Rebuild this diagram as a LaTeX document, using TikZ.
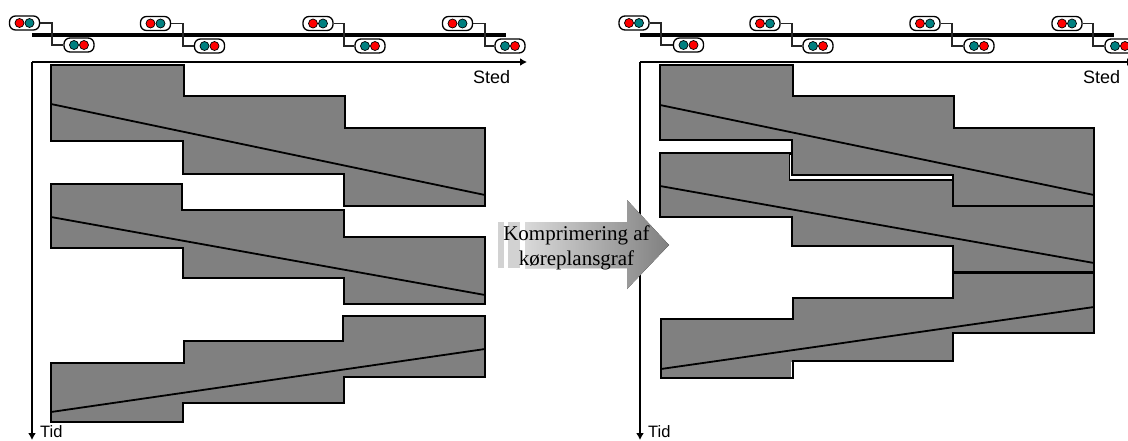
\documentclass[tikz,border=0pt]{standalone}
\usepackage{fontspec}
\setmainfont{Liberation Sans}
\newfontfamily\arrowfont{Liberation Serif}
\usetikzlibrary{arrows.meta,shapes}
\definecolor{blockgray}{HTML}{808080}
\definecolor{lampteal}{HTML}{008080}
\tikzset{
  timeblock/.style={draw=black, fill=blockgray, line width=1.9pt, line join=miter},
  trainline/.style={draw=black, line width=1.8pt},
  whitegap/.style={draw=white, line width=1.1pt},
  axisline/.style={-{Latex[length=7pt,width=8pt]}, line width=1.7pt},
  trackline/.style={line width=3.6pt},
  signalbox/.style={draw, fill=white, rounded corners=6pt, line width=1.3pt, minimum width=30pt, minimum height=14pt, inner sep=0pt},
  signalwire/.style={line width=1.1pt, black!85},
  redlamp/.style={circle, draw, fill=red, line width=.7pt, minimum size=9pt, inner sep=0pt},
  teallamp/.style={circle, draw, fill=lampteal, line width=.7pt, minimum size=9pt, inner sep=0pt},
  stedlabel/.style={inner sep=0pt, anchor=west, font=\fontsize{18}{20}\selectfont},
  tidlabel/.style={inner sep=0pt, anchor=west, font=\fontsize{16.5}{20}\selectfont},
}
\newcommand{\signalpair}[6]{%
  \coordinate (k#1) at (#4,#3);
  \node[signalbox] (u#1) at (#2,#3) {};
  \node[signalbox] (l#1) at (#5,#6) {};
  \draw[signalwire] (u#1.east) -- (k#1) |- (l#1.west);
  % Lamps
  \node[redlamp] (ur#1) at (#2-5,#3) {};
  \node[teallamp] (ut#1) at (#2+5,#3) {};
  \node[teallamp] (lt#1) at (#5-5,#6) {};
  \node[redlamp] (lr#1) at (#5+5,#6) {};
}
\begin{document}
\begin{tikzpicture}[x=1pt,y=-1pt]
\useasboundingbox (0,0) rectangle (1128,440);

% Track and axes, left
\coordinate (ts1) at (32,35);
\coordinate (te1) at (506,35);
\coordinate (o1) at (32,62);
\coordinate (xe1) at (527,62);
\coordinate (ye1) at (32,440);
\draw[trackline] (ts1) -- (te1);
\draw[axisline] (o1) -- (xe1);
\draw[axisline] (o1) -- (ye1);
\node[stedlabel] (sted1) at (473,77) {Sted};
\node[tidlabel] (tid1) at (40,432) {Tid};

% Track and axes, right
\coordinate (ts2) at (640,35);
\coordinate (te2) at (1114,35);
\coordinate (o2) at (640,62);
\coordinate (xe2) at (1134,62);
\coordinate (ye2) at (640,440);
\draw[trackline] (ts2) -- (te2);
\draw[axisline] (o2) -- (xe2);
\draw[axisline] (o2) -- (ye2);
\node[stedlabel] (sted2) at (1083,77) {Sted};
\node[tidlabel] (tid2) at (648,432) {Tid};

% Signals
\signalpair{a}{24.5}{23}{52}{79}{45}
\signalpair{b}{155.5}{23.5}{183}{209.5}{46}
\signalpair{c}{318}{23.5}{344}{370}{46}
\signalpair{d}{457.5}{23.5}{485}{510}{46}
\signalpair{e}{634}{23}{661}{688.5}{45}
\signalpair{f}{765}{23.5}{792}{818}{46}
\signalpair{g}{925}{23.5}{952}{979}{46}
\signalpair{h}{1067}{23.5}{1093}{1120}{46}

% Blocks, left
\draw[timeblock] (51,65) -- (184,65) -- (184,96) -- (345,96) -- (345,128) -- (485,128) -- (485,206)
  -- (344,206) -- (344,174) -- (183,174) -- (183,141) -- (51,141) -- cycle;
\draw[trainline] (51,104) -- (485,195);
\draw[timeblock] (51,184) -- (182,184) -- (182,210) -- (344,210) -- (344,237) -- (485,237) -- (485,304)
  -- (344,304) -- (344,278) -- (183,278) -- (183,248) -- (51,248) -- cycle;
\draw[trainline] (51,217) -- (485,295);
\draw[timeblock] (51,363) -- (184,363) -- (184,341) -- (343,341) -- (343,316) -- (485,316) -- (485,377)
  -- (344,377) -- (344,403) -- (183,403) -- (183,422) -- (51,422) -- cycle;
\draw[trainline] (51,412) -- (485,349);

% Blocks, right
\draw[timeblock] (660,65) -- (793,65) -- (793,96) -- (954,96) -- (954,128) -- (1094,128) -- (1094,206)
  -- (953,206) -- (953,175) -- (792,175) -- (792,140) -- (660,140) -- cycle;
\draw[trainline] (660,105) -- (1094,195);
\draw[timeblock] (660,153) -- (790,153) -- (790,180) -- (953,180) -- (953,206) -- (1094,206) -- (1094,272)
  -- (953,272) -- (953,246) -- (792,246) -- (792,217) -- (660,217) -- cycle;
\draw[trainline] (660,186) -- (1094,263);
\draw[timeblock] (661,319) -- (793,319) -- (793,298) -- (953,298) -- (953,273) -- (1094,273) -- (1094,333)
  -- (953,333) -- (953,361) -- (793,361) -- (793,378) -- (661,378) -- cycle;
\draw[trainline] (661,369) -- (1094,307);
\draw[whitegap] (790.2,155) -- (790.2,179);
\draw[whitegap] (791.4,362) -- (791.4,377);

% Arrow between the graphs
\fill[gray!35] (498,222) rectangle (504,268);
\fill[gray!35] (508,222) rectangle (520,268);
\fill[left color=gray!30, right color=blockgray] (525,222) -- (627,222) -- (627,200) -- (669,245)
  -- (627,289) -- (627,268) -- (525,268) -- cycle;
\node[align=center, inner sep=0pt, font=\arrowfont\fontsize{21}{25}\selectfont] (komp) at (576.5,248) {Komprimering af\\k\o replansgraf};

\end{tikzpicture}
\end{document}
